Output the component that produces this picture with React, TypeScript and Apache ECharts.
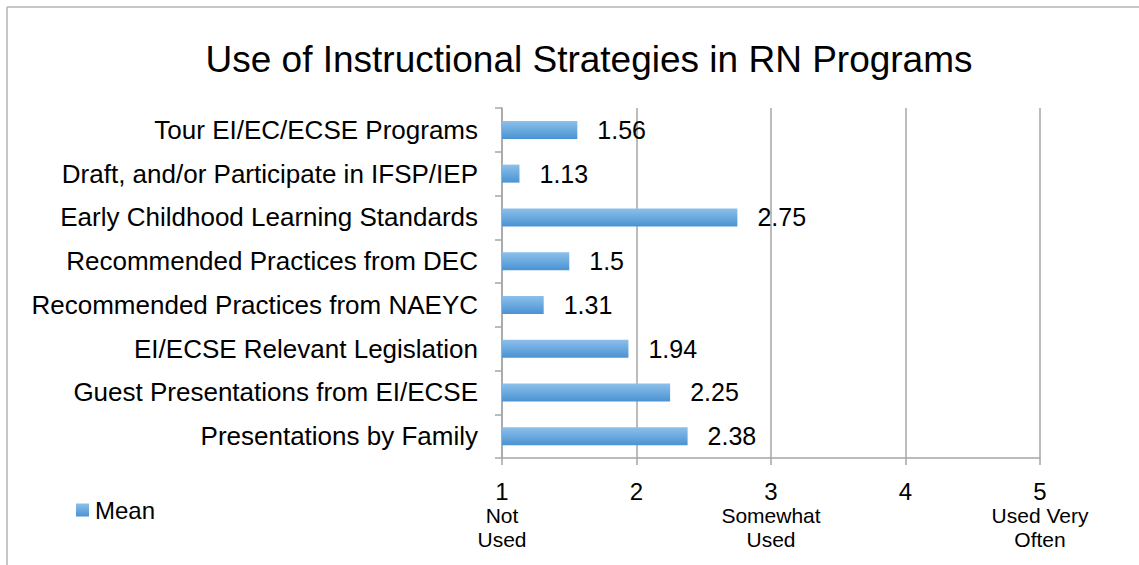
import React, { useEffect, useRef } from "react";
import * as echarts from "echarts";

const categories = [
  "Tour EI/EC/ECSE Programs",
  "Draft, and/or Participate in IFSP/IEP",
  "Early Childhood Learning Standards",
  "Recommended Practices from DEC",
  "Recommended Practices from NAEYC",
  "EI/ECSE Relevant Legislation",
  "Guest Presentations from EI/ECSE",
  "Presentations by Family",
];
const meanValues = [1.56, 1.13, 2.75, 1.5, 1.31, 1.94, 2.25, 2.38];
const tickNumbers = [1, 2, 3, 4, 5];
const tickCaptions: Record<number, string> = {
  1: "Not\nUsed",
  3: "Somewhat\nUsed",
  5: "Used Very\nOften",
};
const titleText = "Use of Instructional Strategies in RN Programs";
const seriesName = "Mean";

export default function App() {
  const ref = useRef<HTMLDivElement>(null);
  useEffect(() => {
    if (!ref.current) return;
    const chart = echarts.init(ref.current, undefined, { renderer: "svg" });
    const fam = "'Liberation Sans', Arial, sans-serif";
    const gradient = new echarts.graphic.LinearGradient(0, 0, 0, 1, [
      { offset: 0, color: "#8DC0EA" },
      { offset: 1, color: "#4A93D3" },
    ]);
    chart.setOption({
      animation: false,
      backgroundColor: "#ffffff",
      textStyle: { fontFamily: fam },
      title: {
        text: titleText,
        left: 589,
        textAlign: "center",
        top: 41,
        padding: 0,
        textStyle: { fontSize: 37, fontWeight: "normal", color: "#000", fontFamily: fam },
      },
      legend: {
        data: [seriesName],
        left: 76,
        top: 498,
        padding: 0,
        itemWidth: 13,
        itemHeight: 13,
        itemGap: 6,
        icon: "rect",
        textStyle: { fontSize: 24, color: "#000", fontFamily: fam, padding: [0, 0, 0, 1] },
      },
      graphic: [
        { type: "line", shape: { x1: 7, y1: 7, x2: 7, y2: 565 }, style: { stroke: "#B4B4B4", lineWidth: 1.5 } },
        { type: "line", shape: { x1: 7, y1: 7, x2: 1139, y2: 7 }, style: { stroke: "#B4B4B4", lineWidth: 1.5 } },
      ],
      grid: { left: 502, right: 99, top: 108, bottom: 107, containLabel: false },
      xAxis: {
        type: "value",
        min: 1,
        max: 5,
        interval: 1,
        axisLine: { show: true, lineStyle: { color: "#A6A6A6", width: 1.5 } },
        axisTick: { show: true, length: 7, lineStyle: { color: "#A6A6A6", width: 1.5 } },
        splitLine: { show: true, lineStyle: { color: "#A6A6A6", width: 1.5 } },
        axisLabel: {
          margin: 21,
          formatter: (v: number) => {
            if (!tickNumbers.includes(v)) return "";
            const cap = tickCaptions[v];
            return cap
              ? `{n|${v}}\n` + cap.split("\n").map((s) => `{s|${s}}`).join("\n")
              : `{n|${v}}`;
          },
          rich: {
            n: { fontSize: 24, lineHeight: 24, color: "#000", fontFamily: fam },
            s: { fontSize: 21, lineHeight: 24, color: "#000", fontFamily: fam },
          },
        },
      },
      yAxis: {
        type: "category",
        data: categories,
        inverse: true,
        axisLine: { show: true, lineStyle: { color: "#A6A6A6", width: 1.5 } },
        axisTick: { show: true, length: 7, lineStyle: { color: "#A6A6A6", width: 1.5 } },
        splitLine: { show: false },
        axisLabel: { margin: 24, fontSize: 26, color: "#000", fontFamily: fam },
      },
      series: [
        {
          name: seriesName,
          type: "bar",
          data: meanValues,
          barWidth: 18,
          itemStyle: { color: gradient },
          label: {
            show: true,
            position: "right",
            distance: 20,
            fontSize: 25,
            color: "#000",
            fontFamily: fam,
          },
        },
      ],
    });
    return () => chart.dispose();
  }, []);
  return (
    <div
      ref={ref}
      style={{ position: "fixed", left: 0, top: 0, width: 1139, height: 565 }}
    />
  );
}
